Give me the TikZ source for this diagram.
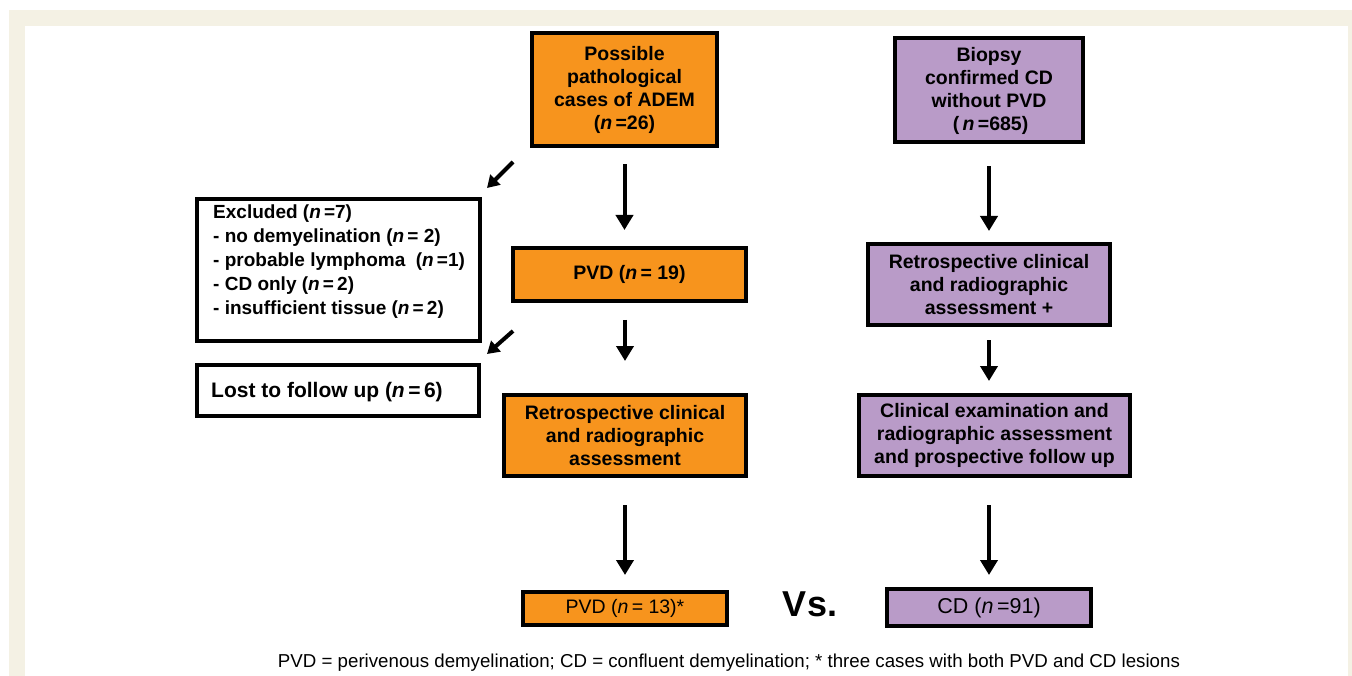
\documentclass[tikz,border=0pt]{standalone}
\usepackage{fontspec}
\setmainfont{Liberation Sans}
\usetikzlibrary{arrows.meta}
\definecolor{beige}{RGB}{244,241,228}
\definecolor{boxorange}{RGB}{247,148,29}
\definecolor{boxpurple}{RGB}{185,155,200}
\begin{document}
\begin{tikzpicture}[x=1pt,y=-1pt,
  box/.style={draw=black, line width=4pt, inner sep=0pt, align=center,
    font=\bfseries\fontsize{19.5}{23}\selectfont},
  obox/.style={box, fill=boxorange},
  pbox/.style={box, fill=boxpurple},
  wbox/.style={box, fill=white},
  arr/.style={line width=4pt, -{Triangle[width=17pt,length=15pt]}},
  darr/.style={line width=4pt, -{Triangle[width=14pt,length=12pt]}},
  lefttext/.style={inner sep=0pt, anchor=north west, align=left,
    font=\bfseries\fontsize{19}{24}\selectfont}
]
\useasboundingbox (0,0) rectangle (1352,676);
\fill[beige] (9,10) rectangle (1352,676);
\fill[white] (25,26) rectangle (1348,676);

% orange column
\node[obox, minimum width=185pt, minimum height=113pt] (A) at (624.5,90)
  {Possible\\pathological\\cases of ADEM\\(\textit{n}\,=26)};
\node[obox, minimum width=233pt, minimum height=53pt] (C) at (629.5,274.5)
  {PVD (\textit{n}\,= 19)};
\node[obox, minimum width=242pt, minimum height=81pt] (E) at (625,435.5)
  {Retrospective clinical\\and radiographic\\assessment};
\node[obox, minimum width=204pt, minimum height=33pt,
  font=\fontsize{19.5}{23}\selectfont] (G) at (625,608.5)
  {PVD (\textit{n}\,= 13)*};

% purple column
\node[pbox, minimum width=188pt, minimum height=104pt] (B) at (989,90.5)
  {Biopsy\\confirmed CD\\without PVD\\\,(\,\textit{n}\,=685)};
\node[pbox, minimum width=242pt, minimum height=81pt] (D) at (989,284.5)
  {Retrospective clinical\\and radiographic\\assessment +};
\node[pbox, minimum width=271pt, minimum height=81pt] (F) at (994.5,435.5)
  {Clinical examination and\\radiographic assessment\\and prospective follow up};
\node[pbox, minimum width=204pt, minimum height=37pt,
  font=\fontsize{21.5}{25}\selectfont] (H) at (989,607.5)
  {CD (\textit{n}\,=91)};

% left boxes
\node[wbox, minimum width=283pt, minimum height=142pt] (X) at (338.5,270) {};
\node[lefttext] (Xt) at (213,205)
  {Excluded (\textit{n}\,=7)\\
   - no demyelination (\textit{n}\,= 2)\\
   - probable lymphoma\ \ (\textit{n}\,=1)\\
   - CD only (\textit{n}\,=\,2)\\
   - insufficient tissue (\textit{n}\,=\,2)};
\node[wbox, minimum width=282pt, minimum height=51pt] (L) at (338,390.5) {};
\node[inner sep=0pt, anchor=west, font=\bfseries\fontsize{21}{25}\selectfont]
  (Lt) at (211,392) {Lost to follow up (\textit{n}\,=\,6)};

% vs
\node[inner sep=0pt, font=\bfseries\fontsize{36}{40}\selectfont] (vs) at (810,604) {Vs.};

% footer
\node[inner sep=0pt] (foot) at (729,663)
  {\resizebox{902pt}{!}{\fontsize{17}{20}\selectfont PVD = perivenous demyelination; CD = confluent demyelination; * three cases with both PVD and CD lesions}};

% vertical arrows, orange column
\draw[arr, shorten <=16pt, shorten >=16pt] (A.south) -- (A.south |- C.north);
\draw[arr, shorten <=17pt, shorten >=32pt] (C.south -| E.north) -- (E.north);
\draw[arr, shorten <=27pt, shorten >=15pt] (E.south) -- (E.south |- G.north);
% vertical arrows, purple column
\draw[arr, shorten <=22pt, shorten >=11pt] (B.south) -- (B.south |- D.north);
\draw[arr, shorten <=13pt, shorten >=12pt] (D.south) -- (D.south |- F.north);
\draw[arr, shorten <=27pt, shorten >=12pt] (D.south |- F.south) -- (D.south |- H.north);

% diagonal arrows to the excluded boxes
\coordinate (x1s) at (513,162);
\coordinate (x1e) at (487,188);
\coordinate (x2s) at (513,331);
\coordinate (x2e) at (487,354);
\draw[darr] (x1s) -- (x1e);
\draw[darr] (x2s) -- (x2e);
\end{tikzpicture}
\end{document}
